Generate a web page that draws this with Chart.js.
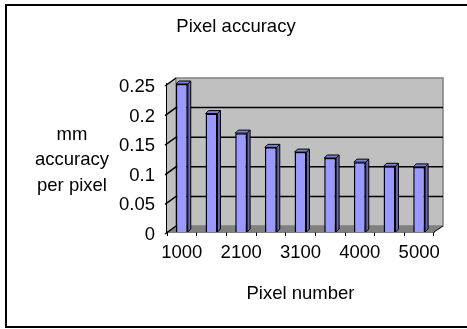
<!DOCTYPE html>
<html>
<head>
<meta charset="utf-8">
<script src="https://cdn.jsdelivr.net/npm/chart.js@4/dist/chart.umd.min.js"></script>
<style>
  html, body { margin: 0; padding: 0; background: #fff; }
  canvas { display: block; }
</style>
</head>
<body>
<canvas id="chartPixel" width="467" height="329"></canvas>
<script>
// data
var pixelNumbers = ['1000', '1600', '2100', '2600', '3100', '3500', '4000', '4500', '5000'];
var accuracy = [0.25, 0.2, 0.167, 0.143, 0.135, 0.125, 0.118, 0.111, 0.11];
var chartTitle = 'Pixel accuracy';
var yTitle = ['mm', 'accuracy', 'per pixel'];

var FONT = '"Liberation Sans", Arial, sans-serif';
var DX = 9, DY = 6;   // depth of the 3d box

// frame, walls, floor, grid lines, titles
var wallPlugin = {
    id: 'wall',
    beforeDraw: function (chart) {
        var c = chart.ctx;
        c.save();
        c.fillStyle = '#fff';
        c.fillRect(0, 0, chart.width, chart.height);
        // outer frame
        c.strokeStyle = '#000';
        c.lineWidth = 2;
        c.beginPath();
        c.moveTo(500, 5); c.lineTo(6, 5); c.lineTo(6, 327); c.lineTo(500, 327);
        c.stroke();
        c.restore();
    },
    beforeDatasetsDraw: function (chart) {
        var c = chart.ctx;
        var a = chart.chartArea;
        var y = chart.scales.y;
        c.save();
        // side wall
        c.fillStyle = '#c0c0c0';
        c.beginPath();
        c.moveTo(a.left, a.top); c.lineTo(a.left + DX, a.top - DY);
        c.lineTo(a.left + DX, a.bottom - DY); c.lineTo(a.left, a.bottom);
        c.closePath(); c.fill();
        // back wall
        c.fillRect(a.left + DX, a.top - DY, a.right - a.left, a.bottom - a.top);
        c.strokeStyle = '#808080';
        c.lineWidth = 1.5;
        c.strokeRect(a.left + DX, a.top - DY, a.right - a.left, a.bottom - a.top);
        // floor
        c.fillStyle = '#808080';
        c.beginPath();
        c.moveTo(a.left, a.bottom); c.lineTo(a.left + DX, a.bottom - DY);
        c.lineTo(a.right + DX, a.bottom - DY); c.lineTo(a.right, a.bottom);
        c.closePath(); c.fill();
        c.strokeStyle = '#000';
        c.lineWidth = 1;
        c.beginPath();
        c.moveTo(a.right, a.bottom); c.lineTo(a.right + DX, a.bottom - DY);
        c.stroke();
        // grid lines
        c.lineWidth = 1.5;
        y.ticks.forEach(function (t) {
            var py = y.getPixelForValue(t.value);
            c.beginPath();
            c.moveTo(a.left - 2, py + 2);
            c.lineTo(a.left + DX, py - DY);
            if (t.value > 0 && t.value < y.max) c.lineTo(a.right + DX, py - DY);
            c.stroke();
        });
        c.restore();
    },
    afterDatasetsDraw: function (chart) {
        var c = chart.ctx;
        var meta = chart.getDatasetMeta(0);
        var d = 3;
        c.save();
        c.strokeStyle = '#000';
        c.lineWidth = 1;
        meta.data.forEach(function (bar) {
            var l = bar.x - bar.width / 2, r = bar.x + bar.width / 2;
            var top = bar.y, bot = bar.base;
            // side face
            c.fillStyle = '#6666b3';
            c.beginPath();
            c.moveTo(r, top); c.lineTo(r + d, top - d); c.lineTo(r + d, bot - d); c.lineTo(r, bot);
            c.closePath(); c.fill(); c.stroke();
            // top face
            c.fillStyle = '#7f7fd9';
            c.beginPath();
            c.moveTo(l, top); c.lineTo(l + d, top - d); c.lineTo(r + d, top - d); c.lineTo(r, top);
            c.closePath(); c.fill(); c.stroke();
        });
        // titles
        c.fillStyle = '#000';
        c.font = '18.5px ' + FONT;
        c.textAlign = 'center';
        c.textBaseline = 'middle';
        c.fillText(chartTitle, 236, 27);
        var ly = [135, 160, 186];
        yTitle.forEach(function (s, i) { c.fillText(s, 72, ly[i]); });
        c.restore();
    }
};

const ctx = document.getElementById('chartPixel').getContext('2d');
const myChart = new Chart(ctx, {
    type: 'bar',
    data: {
        labels: pixelNumbers,
        datasets: [{
            label: 'mm accuracy per pixel',
            data: accuracy,
            backgroundColor: '#9999ff',
            borderColor: '#000',
            borderWidth: 1.5,
            barPercentage: 0.4,
            categoryPercentage: 1
        }]
    },
    options: {
        responsive: false,
        animation: false,
        layout: { padding: { left: 0, right: 33, top: 84, bottom: 0 } },
        plugins: {
            legend: { display: false },
            tooltip: { enabled: false },
            title: { display: false }
        },
        scales: {
            x: {
                afterFit: function (s) { s.height = 97; },
                grid: { drawOnChartArea: false, drawTicks: true, tickLength: 4, color: '#000', offset: true },
                border: { display: true, color: '#000', width: 1.5 },
                ticks: {
                    color: '#000',
                    font: { family: FONT, size: 18.5 },
                    autoSkip: false,
                    maxRotation: 0,
                    padding: 6,
                    callback: function (v, i) { return i % 2 === 0 ? this.getLabelForValue(v) : ''; }
                },
                title: {
                    display: true,
                    text: 'Pixel number',
                    color: '#000',
                    font: { family: FONT, size: 18.5 },
                    padding: { top: 0, bottom: 24 }
                }
            },
            y: {
                min: 0,
                max: 0.25,
                afterFit: function (s) { s.width = 167; },
                grid: { display: false },
                border: { display: true, color: '#000', width: 1.5 },
                ticks: {
                    stepSize: 0.05,
                    color: '#000',
                    font: { family: FONT, size: 18.5 },
                    padding: 4,
                    labelOffset: 3,
                    callback: function (v) { return String(+v.toFixed(2)); }
                }
            }
        }
    },
    plugins: [wallPlugin]
});
</script>
</body>
</html>
